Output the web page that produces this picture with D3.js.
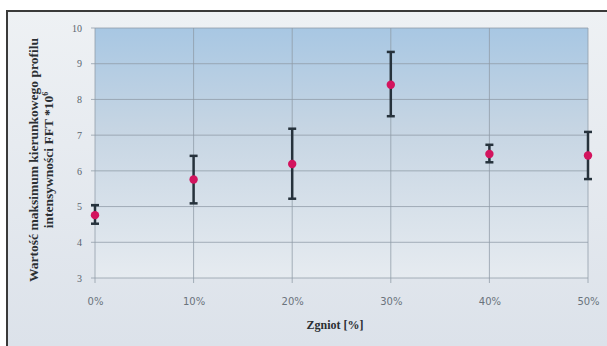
<!DOCTYPE html>
<html>
<head>
<meta charset="utf-8">
<script src="https://d3js.org/d3.v7.min.js"></script>
<style>
  body { margin: 0; background: #fff; }
</style>
</head>
<body>
<script>
  // data
  var categories = ["0%", "10%", "20%", "30%", "40%", "50%"];
  var means = [4.76, 5.76, 6.19, 8.41, 6.47, 6.43];
  var upper = [5.04, 6.42, 7.18, 9.33, 6.73, 7.09];
  var lower = [4.52, 5.09, 5.22, 7.53, 6.24, 5.77];
  var yTicks = [3, 4, 5, 6, 7, 8, 9, 10];

  var width = 607, height = 346;
  var plotLeft = 95, plotRight = 588, plotTop = 28, plotBottom = 278;

  var svg = d3.select("body").append("svg")
    .attr("width", width)
    .attr("height", height);

  var defs = svg.append("defs");
  var bg = defs.append("linearGradient").attr("id", "bg")
    .attr("x1", 0).attr("y1", 0).attr("x2", 0).attr("y2", 1);
  bg.append("stop").attr("offset", "0%").attr("stop-color", "#eef1f4");
  bg.append("stop").attr("offset", "100%").attr("stop-color", "#dce2ea");

  var pg = defs.append("linearGradient").attr("id", "plotbg")
    .attr("x1", 0).attr("y1", 0).attr("x2", 0).attr("y2", 1);
  pg.append("stop").attr("offset", "0%").attr("stop-color", "#a8c7e3");
  pg.append("stop").attr("offset", "40%").attr("stop-color", "#c6d5e3");
  pg.append("stop").attr("offset", "100%").attr("stop-color", "#e6ebf0");

  // outer background + frame
  svg.append("rect")
    .attr("x", 7).attr("y", 11)
    .attr("width", width - 7).attr("height", height - 11)
    .style("fill", "url(#bg)");
  svg.append("line")
    .attr("x1", 6).attr("y1", 11).attr("x2", width).attr("y2", 11)
    .attr("stroke", "#3a3a3a").attr("stroke-width", 2);
  svg.append("line")
    .attr("x1", 7).attr("y1", 11).attr("x2", 7).attr("y2", height)
    .attr("stroke", "#3a3a3a").attr("stroke-width", 2);

  // scales
  var x = d3.scalePoint().domain(categories).range([plotLeft, plotRight]);
  var y = d3.scaleLinear().domain([3, 10]).range([plotBottom, plotTop]);

  // plot area
  svg.append("rect")
    .attr("x", plotLeft).attr("y", plotTop)
    .attr("width", plotRight - plotLeft).attr("height", plotBottom - plotTop)
    .style("fill", "url(#plotbg)");

  // horizontal gridlines
  svg.selectAll(".hgrid").data(yTicks).enter().append("line")
    .attr("class", "hgrid")
    .attr("x1", plotLeft - 4).attr("x2", plotRight)
    .attr("y1", function(d) { return y(d); })
    .attr("y2", function(d) { return y(d); })
    .attr("stroke", "#8e9aa6").attr("stroke-width", 1).style("opacity", 0.75);

  // vertical gridlines
  svg.selectAll(".vgrid").data(categories).enter().append("line")
    .attr("class", "vgrid")
    .attr("x1", function(d) { return x(d); })
    .attr("x2", function(d) { return x(d); })
    .attr("y1", plotTop).attr("y2", plotBottom + 5)
    .attr("stroke", "#8e9aa6").attr("stroke-width", 1).style("opacity", 0.75);

  // axes (labels only)
  var yAxis = svg.append("g")
    .attr("transform", "translate(" + (plotLeft - 7) + ",0)")
    .call(d3.axisLeft(y).tickValues(yTicks).tickFormat(d3.format("d"))
      .tickSize(0).tickPadding(6));
  yAxis.select(".domain").remove();
  yAxis.selectAll("text")
    .style("font-family", "'Liberation Serif', serif")
    .style("font-size", "10px")
    .style("fill", "#5a646e");

  var xAxis = svg.append("g")
    .attr("transform", "translate(0," + plotBottom + ")")
    .call(d3.axisBottom(x).tickSize(0).tickPadding(20));
  xAxis.select(".domain").remove();
  xAxis.selectAll("text")
    .style("font-family", "'DejaVu Sans', sans-serif")
    .style("font-size", "10px")
    .style("fill", "#6a737c");

  // error bars
  var idx = d3.range(categories.length);
  svg.selectAll(".err").data(idx).enter().append("line")
    .attr("class", "err")
    .attr("x1", function(i) { return x(categories[i]); })
    .attr("x2", function(i) { return x(categories[i]); })
    .attr("y1", function(i) { return y(upper[i]); })
    .attr("y2", function(i) { return y(lower[i]); })
    .attr("stroke", "#26323c").attr("stroke-width", 2.5);

  [upper, lower].forEach(function(arr) {
    svg.selectAll(null).data(idx).enter().append("line")
      .attr("x1", function(i) { return x(categories[i]) - 4; })
      .attr("x2", function(i) { return x(categories[i]) + 4; })
      .attr("y1", function(i) { return y(arr[i]); })
      .attr("y2", function(i) { return y(arr[i]); })
      .attr("stroke", "#26323c").attr("stroke-width", 2.5);
  });

  // points
  svg.selectAll(".pt").data(idx).enter().append("circle")
    .attr("class", "pt")
    .attr("cx", function(i) { return x(categories[i]); })
    .attr("cy", function(i) { return y(means[i]); })
    .attr("r", 4.2)
    .style("fill", "#d3145e");

  // axis titles
  svg.append("text")
    .attr("x", 335).attr("y", 329)
    .attr("text-anchor", "middle")
    .style("font-family", "'Liberation Serif', serif")
    .style("font-weight", "bold")
    .style("font-size", "12px")
    .style("fill", "#2b2f33")
    .text("Zgniot [%]");

  var ylab = svg.append("text")
    .attr("transform", "translate(0,160) rotate(-90)")
    .attr("text-anchor", "middle")
    .style("font-family", "'Liberation Serif', serif")
    .style("font-weight", "bold")
    .style("font-size", "13.5px")
    .style("fill", "#2b2f33");
  ylab.append("tspan").attr("x", 0).attr("y", 38)
    .text("Wartość maksimum kierunkowego profilu");
  ylab.append("tspan").attr("x", 0).attr("y", 53)
    .text("intensywności FFT *10");
  ylab.append("tspan").attr("dy", -5).style("font-size", "8px").text("6");
</script>
</body>
</html>
